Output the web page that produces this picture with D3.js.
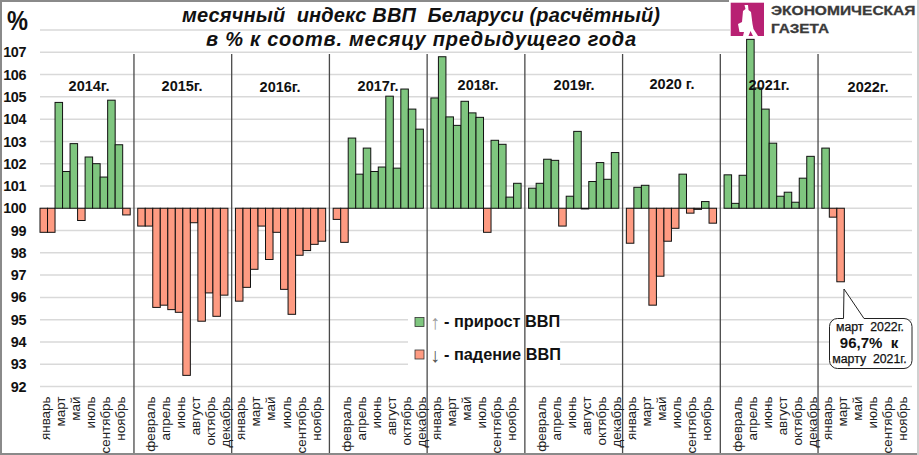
<!DOCTYPE html>
<html lang="ru">
<head>
<meta charset="utf-8">
<script src="https://cdn.jsdelivr.net/npm/d3@7"></script>
<style>
  html, body { margin: 0; padding: 0; background: #fff; }
  svg { display: block; }
  text { font-family: "Liberation Sans", Arial, sans-serif; white-space: pre; }
</style>
</head>
<body>
<svg id="chart" width="919" height="455"></svg>
<script>
// Monthly GDP index of Belarus, % of the same month of the previous year
const years = ["2014г.", "2015г.", "2016г.", "2017г.", "2018г.", "2019г.", "2020 г.", "2021г.", "2022г."];
const monthNames = ["январь", "февраль", "март", "апрель", "май", "июнь", "июль", "август", "сентябрь", "октябрь", "ноябрь", "декабрь"];
const values2014 = [98.92, 98.92, 104.75, 101.65, 102.9, 99.45, 102.3, 102.0, 101.4, 104.85, 102.85, 99.7];
const values2015 = [99.2, 99.2, 95.55, 95.65, 95.45, 95.33, 92.5, 99.35, 94.93, 96.2, 95.15, 96.1];
const values2016 = [95.83, 96.45, 97.26, 99.2, 97.7, 98.92, 96.36, 95.24, 97.89, 98.1, 98.38, 98.52];
const values2017 = [99.5, 98.47, 103.15, 101.53, 102.7, 101.65, 101.85, 105.03, 101.8, 105.35, 104.45, 103.55];
const values2018 = [104.95, 106.8, 104.1, 103.72, 104.8, 104.28, 104.08, 98.92, 103.05, 102.87, 100.5, 101.12];
const values2019 = [100.9, 101.12, 102.2, 102.15, 99.2, 100.54, 103.45, 99.97, 101.2, 102.05, 101.3, 102.5];
const values2020 = [98.43, 100.94, 101.03, 95.65, 96.95, 98.52, 99.1, 101.53, 99.78, 99.95, 100.3, 99.33];
const values2021 = [101.5, 100.22, 101.48, 107.58, 105.4, 104.45, 102.92, 100.54, 100.72, 100.27, 101.35, 102.33];
const values2022 = [102.7, 99.6, 96.7];
const yearValues = [values2014, values2015, values2016, values2017, values2018, values2019, values2020, values2021, values2022];
const yTicks = d3.range(92, 109);
const titleLines = ["месячный  индекс ВВП  Беларуси (расчётный)", "в % к соотв. месяцу предыдущего года"];
const legendItems = [
  { arrow: "↑", text: "- прирост ВВП", up: true },
  { arrow: "↓", text: "- падение ВВП", up: false }
];
const calloutLines = ["март  2022г.", "96,7%  к", "марту  2021г."];

const BASE = 100, MONTHS = 12, SLOTS_PER_YEAR = MONTHS + 1;
const GREEN = "#7fc67f", SALMON = "#fe9b82";

const svg = d3.select("#chart");
const width = 919, height = 455;
svg.append("rect").attr("width", width).attr("height", height).attr("fill", "#fff");

// One slot per month, plus an empty slot after each year
const totalSlots = SLOTS_PER_YEAR * (years.length - 1) + MONTHS;
const x = d3.scaleBand().domain(d3.range(totalSlots)).range([40, 912]).padding(0);
const y = d3.scaleLinear().domain([92, 108]).range([386.5, 30]);

const bars = yearValues.flatMap((vals, yi) =>
  vals.map((value, mi) => ({ slot: yi * SLOTS_PER_YEAR + mi, value })));

// Horizontal grid
svg.append("g").selectAll("line").data(yTicks).join("line")
  .attr("x1", 40).attr("x2", d => d === 108 ? 730 : 912)
  .attr("y1", d => y(d)).attr("y2", d => y(d))
  .attr("stroke", "#d9d9d9").attr("stroke-width", 1.5);

// Legend backing interrupts the grid
svg.append("rect").attr("x", 408).attr("y", 305).attr("width", 152).attr("height", 68).attr("fill", "#fff");

// Year separators sit in the empty slots
svg.append("g").selectAll("line").data(d3.range(1, years.length)).join("line")
  .attr("x1", i => x(i * SLOTS_PER_YEAR - 1) + x.bandwidth() / 2)
  .attr("x2", i => x(i * SLOTS_PER_YEAR - 1) + x.bandwidth() / 2)
  .attr("y1", 54).attr("y2", 453)
  .attr("stroke", "#4a4a4a").attr("stroke-width", 1.3);

// Bars grow from the 100 baseline
svg.append("g").selectAll("rect").data(bars).join("rect")
  .attr("x", d => x(d.slot))
  .attr("width", x.bandwidth())
  .attr("y", d => Math.min(y(d.value), y(BASE)))
  .attr("height", d => Math.abs(y(d.value) - y(BASE)))
  .attr("fill", d => d.value >= BASE ? GREEN : SALMON)
  .attr("stroke", "#111").attr("stroke-width", 1);

// Value axis
const yAxis = d3.axisLeft(y).tickValues(yTicks.filter(d => d < 108)).tickSize(0).tickPadding(0).tickFormat(d3.format("d"));
svg.append("g").attr("transform", "translate(26,0)").call(yAxis)
  .call(g => g.select(".domain").remove())
  .call(g => g.selectAll("text")
    .attr("font-size", 14.4).attr("font-weight", "bold").attr("fill", "#111")
    .attr("letter-spacing", -0.4)
    .attr("font-family", "'Liberation Sans', Arial, sans-serif"));

// Month axis: every second slot is labelled, the gaps stay blank
const labelFor = slot => {
  const m = slot % SLOTS_PER_YEAR;
  return m < MONTHS ? monthNames[m] : "";
};
const xAxis = d3.axisBottom(x).tickValues(d3.range(0, totalSlots, 2)).tickSize(0).tickPadding(0).tickFormat(labelFor);
svg.append("g").attr("transform", "translate(0,396.5)").call(xAxis)
  .call(g => g.select(".domain").remove())
  .call(g => g.selectAll("text")
    .attr("font-size", 13.4).attr("fill", "#222")
    .attr("font-family", "'Liberation Sans', Arial, sans-serif")
    .attr("text-anchor", "end")
    .attr("transform", "rotate(-90)")
    .attr("x", 0).attr("y", 1.5).attr("dy", "0.35em"));

// Year captions
const yearCaptionPos = [[89, 86], [182, 86], [280, 87], [378, 86], [478, 85], [574, 85], [672, 84], [769, 85], [868, 87]];
svg.append("g").selectAll("text").data(years).join("text")
  .attr("x", (d, i) => yearCaptionPos[i][0])
  .attr("y", (d, i) => yearCaptionPos[i][1])
  .attr("dy", "0.35em").attr("text-anchor", "middle")
  .attr("font-size", 14.5).attr("font-weight", "bold").attr("fill", "#111")
  .text(d => d);

// Axis unit
svg.append("text").attr("x", 7).attr("y", 30).attr("font-size", 28).attr("font-weight", "bold")
  .attr("textLength", 21).attr("lengthAdjust", "spacingAndGlyphs")
  .attr("fill", "#111").text("%");

// Title
const titleLengths = [478, 430];
svg.append("g").selectAll("text").data(titleLines).join("text")
  .attr("x", (d, i) => [182, 206][i]).attr("y", (d, i) => i === 0 ? 22 : 46)
  .attr("textLength", (d, i) => titleLengths[i])
  .attr("font-size", 20).attr("font-weight", "bold").attr("font-style", "italic")
  .attr("fill", "#111")
  .text(d => d);

// Legend
const legend = svg.append("g").selectAll("g").data(legendItems).join("g")
  .attr("transform", (d, i) => `translate(0,${i === 0 ? 322 : 354.5})`);
legend.append("rect").attr("x", 415).attr("y", -4.5).attr("width", 9).attr("height", 9)
  .attr("fill", d => d.up ? GREEN : SALMON).attr("stroke", "#333").attr("stroke-width", 0.8);
legend.append("text").attr("x", 430).attr("y", 7).attr("font-size", 20)
  .attr("fill", d => d.up ? "#999" : "#555").text(d => d.arrow);
legend.append("text").attr("x", 444).attr("y", 5).attr("font-size", 16.3).attr("font-weight", "bold")
  .attr("fill", "#111").text(d => d.text);

// Callout for the latest month
const bx = 829.5, by = 318.5, bw = 82.5, bh = 50, r = 8;
const calloutPath = d3.path();
calloutPath.moveTo(bx + r, by);
calloutPath.lineTo(843.5, by);
calloutPath.lineTo(844, 289);
calloutPath.lineTo(864, by);
calloutPath.lineTo(bx + bw - r, by);
calloutPath.arcTo(bx + bw, by, bx + bw, by + r, r);
calloutPath.lineTo(bx + bw, by + bh - r);
calloutPath.arcTo(bx + bw, by + bh, bx + bw - r, by + bh, r);
calloutPath.lineTo(bx + r, by + bh);
calloutPath.arcTo(bx, by + bh, bx, by + bh - r, r);
calloutPath.lineTo(bx, by + r);
calloutPath.arcTo(bx, by, bx + r, by, r);
calloutPath.closePath();
svg.append("path").attr("d", calloutPath.toString()).attr("fill", "#fff").attr("stroke", "#222").attr("stroke-width", 1);
svg.append("g").selectAll("text").data(calloutLines).join("text")
  .attr("x", (d, i) => [870, 869, 869.5][i]).attr("y", (d, i) => [330.7, 348, 362.7][i])
  .attr("text-anchor", "middle")
  .attr("font-size", (d, i) => i === 1 ? 15 : 12.3)
  .attr("font-weight", (d, i) => i === 1 ? "bold" : "normal")
  .attr("stroke", (d, i) => i === 1 ? "none" : "#111").attr("stroke-width", 0.25)
  .attr("fill", "#111").text(d => d);

// Frame
svg.append("path").attr("d", `M1,455 V1 H729 M0,454 H919`)
  .attr("fill", "none").attr("stroke", "#8a8a8a").attr("stroke-width", 2);
svg.append("line").attr("x1", 918).attr("x2", 918).attr("y1", 0).attr("y2", 455).attr("stroke", "#d0d0d0").attr("stroke-width", 2);

// Publisher mark
const brand = svg.append("g");
brand.append("rect").attr("x", 730.7).attr("y", 2.7).attr("width", 33.3).attr("height", 33.3).attr("fill", "#b82173");
brand.append("path").attr("fill", "#fff")
  .attr("d", "M744.5,5 h3.5 l0.5,5 l2.5,2 l1.5,12 l1,5 l4.5,7 h-5 l-2.5,-5 l-2,5 h-5.5 l1,-4 h-4.5 l-1.5,-8 l4,-2 l1,-11 l2.5,-2 z");
[["ЭКОНОМИЧЕСКАЯ", 15, 144.5], ["ГАЗЕТА", 33, 58]].forEach(([label, baseline, len]) => {
  brand.append("text").attr("x", 771).attr("y", baseline).attr("font-size", 13).attr("font-weight", "bold")
    .attr("textLength", len).attr("lengthAdjust", "spacingAndGlyphs")
    .attr("stroke", "#3a3a3a").attr("stroke-width", 0.3)
    .attr("fill", "#3a3a3a").text(label);
});
</script>
</body>
</html>
